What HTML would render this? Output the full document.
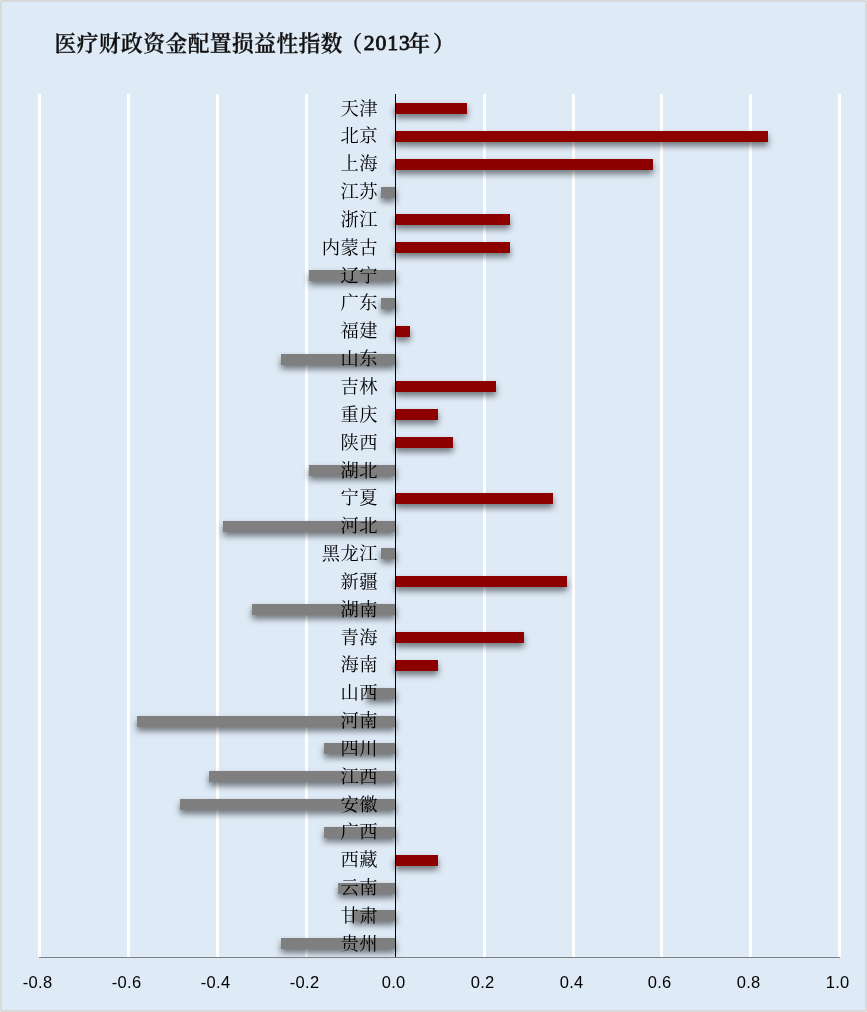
<!DOCTYPE html>
<html lang="zh-CN">
<head>
<meta charset="utf-8">
<title>医疗财政资金配置损益性指数（2013年）</title>
<style>
html,body{margin:0;padding:0;}
body{width:867px;height:1012px;overflow:hidden;background:#d9d9d9;}
#chart{position:absolute;left:2px;top:2px;width:863px;height:1008px;background:#deeaf6;box-shadow:inset 0 0 0 1px #dcebf8;}
.c{position:absolute;width:1px;height:1px;background:#ececec;}
#wrap{position:absolute;left:0;top:0;width:867px;height:1012px;overflow:hidden;}
.t{position:absolute;left:54.5px;top:28px;height:32px;line-height:32px;font-family:"Liberation Serif","Noto Serif CJK SC",serif;font-weight:600;-webkit-text-stroke:0.3px #111;font-size:21.7px;letter-spacing:0.5px;color:#111;white-space:nowrap;}
.p1{margin-left:-2.5px}.d{margin-left:1px;letter-spacing:0.9px;position:relative;top:-1px;font-weight:400;-webkit-text-stroke:0.8px #111}.y{margin-left:-2.2px}.p2{margin-left:2.4px}
.g{position:absolute;top:94px;height:863px;width:3px;background:#fff;}
.b{position:absolute;height:11px;box-shadow:0 4px 6px rgba(0,0,0,.5);}
.p{background:#8c0000;}
.n{background:#7f7f7f;}
.ax{position:absolute;left:395px;top:94px;width:1px;height:864px;background:#000;}
.bx{position:absolute;left:39px;top:957px;width:801px;height:1px;background:#7f7f7f;}
.l{position:absolute;left:200px;width:177.9px;text-align:right;height:28px;line-height:28px;font-family:"Liberation Serif","Noto Serif CJK SC",serif;font-weight:400;font-size:18.3px;letter-spacing:0.4px;color:#000;white-space:nowrap;}
.x{position:absolute;top:970px;width:80px;margin-left:-40px;text-align:center;height:24px;line-height:24px;font-family:"Liberation Sans",sans-serif;font-size:16.5px;letter-spacing:0.3px;color:#000;white-space:nowrap;}
</style>
</head>
<body>
<div id="wrap">
<div id="chart"></div>
<div class="c" style="left:0;top:0"></div><div class="c" style="left:866px;top:0"></div><div class="c" style="left:0;top:1011px"></div><div class="c" style="left:866px;top:1011px"></div>
<div class="t">医疗财政资金配置损益性指数<span class="p1">（</span><span class="d">2013</span><span class="y">年</span><span class="p2">）</span></div>
<div class="g" style="left:38px"></div>
<div class="g" style="left:127px"></div>
<div class="g" style="left:216px"></div>
<div class="g" style="left:305px"></div>
<div class="g" style="left:483px"></div>
<div class="g" style="left:572px"></div>
<div class="g" style="left:660px"></div>
<div class="g" style="left:749px"></div>
<div class="g" style="left:838px"></div>
<div class="b p" style="left:395px;top:103px;width:72.0px"></div>
<div class="b p" style="left:395px;top:131px;width:373.1px"></div>
<div class="b p" style="left:395px;top:159px;width:258.4px"></div>
<div class="b n" style="left:381.0px;top:187px;width:15.0px"></div>
<div class="b p" style="left:395px;top:214px;width:115.0px"></div>
<div class="b p" style="left:395px;top:242px;width:115.0px"></div>
<div class="b n" style="left:309.3px;top:270px;width:86.7px"></div>
<div class="b n" style="left:381.0px;top:298px;width:15.0px"></div>
<div class="b p" style="left:395px;top:326px;width:14.6px"></div>
<div class="b n" style="left:280.6px;top:354px;width:115.4px"></div>
<div class="b p" style="left:395px;top:381px;width:100.7px"></div>
<div class="b p" style="left:395px;top:409px;width:43.3px"></div>
<div class="b p" style="left:395px;top:437px;width:57.7px"></div>
<div class="b n" style="left:309.3px;top:465px;width:86.7px"></div>
<div class="b p" style="left:395px;top:493px;width:158.0px"></div>
<div class="b n" style="left:223.2px;top:521px;width:172.8px"></div>
<div class="b n" style="left:381.0px;top:548px;width:15.0px"></div>
<div class="b p" style="left:395px;top:576px;width:172.4px"></div>
<div class="b n" style="left:251.9px;top:604px;width:144.1px"></div>
<div class="b p" style="left:395px;top:632px;width:129.3px"></div>
<div class="b p" style="left:395px;top:660px;width:43.3px"></div>
<div class="b n" style="left:366.6px;top:688px;width:29.4px"></div>
<div class="b n" style="left:137.2px;top:716px;width:258.8px"></div>
<div class="b n" style="left:323.6px;top:743px;width:72.4px"></div>
<div class="b n" style="left:208.9px;top:771px;width:187.1px"></div>
<div class="b n" style="left:180.2px;top:799px;width:215.8px"></div>
<div class="b n" style="left:323.6px;top:827px;width:72.4px"></div>
<div class="b p" style="left:395px;top:855px;width:43.3px"></div>
<div class="b n" style="left:337.9px;top:883px;width:58.1px"></div>
<div class="b n" style="left:352.3px;top:910px;width:43.7px"></div>
<div class="b n" style="left:280.6px;top:938px;width:115.4px"></div>
<div class="ax"></div>
<div class="bx"></div>
<div class="l" style="top:94.5px">天津</div>
<div class="l" style="top:122.3px">北京</div>
<div class="l" style="top:150.2px">上海</div>
<div class="l" style="top:178.0px">江苏</div>
<div class="l" style="top:205.9px">浙江</div>
<div class="l" style="top:233.7px">内蒙古</div>
<div class="l" style="top:261.6px">辽宁</div>
<div class="l" style="top:289.4px">广东</div>
<div class="l" style="top:317.2px">福建</div>
<div class="l" style="top:345.1px">山东</div>
<div class="l" style="top:372.9px">吉林</div>
<div class="l" style="top:400.8px">重庆</div>
<div class="l" style="top:428.6px">陕西</div>
<div class="l" style="top:456.5px">湖北</div>
<div class="l" style="top:484.3px">宁夏</div>
<div class="l" style="top:512.1px">河北</div>
<div class="l" style="top:540.0px">黑龙江</div>
<div class="l" style="top:567.8px">新疆</div>
<div class="l" style="top:595.7px">湖南</div>
<div class="l" style="top:623.5px">青海</div>
<div class="l" style="top:651.4px">海南</div>
<div class="l" style="top:679.2px">山西</div>
<div class="l" style="top:707.0px">河南</div>
<div class="l" style="top:734.9px">四川</div>
<div class="l" style="top:762.7px">江西</div>
<div class="l" style="top:790.6px">安徽</div>
<div class="l" style="top:818.4px">广西</div>
<div class="l" style="top:846.3px">西藏</div>
<div class="l" style="top:874.1px">云南</div>
<div class="l" style="top:901.9px">甘肃</div>
<div class="l" style="top:929.8px">贵州</div>
<div class="x" style="left:37.6px">-0.8</div>
<div class="x" style="left:126.6px">-0.6</div>
<div class="x" style="left:215.6px">-0.4</div>
<div class="x" style="left:304.6px">-0.2</div>
<div class="x" style="left:393.6px">0.0</div>
<div class="x" style="left:482.6px">0.2</div>
<div class="x" style="left:571.6px">0.4</div>
<div class="x" style="left:659.6px">0.6</div>
<div class="x" style="left:748.6px">0.8</div>
<div class="x" style="left:837.6px">1.0</div>
</div>
</body>
</html>
